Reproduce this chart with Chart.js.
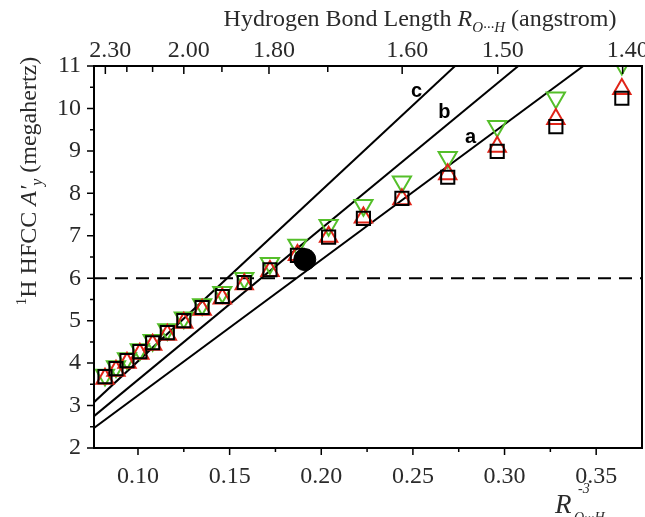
<!DOCTYPE html>
<html>
<head>
<meta charset="utf-8">
<script src="https://cdn.jsdelivr.net/npm/chart.js@4.4.0/dist/chart.umd.min.js"></script>
<style>
  html, body { margin: 0; padding: 0; background: #ffffff; }
  #wrap { width: 645px; height: 517px; }
</style>
</head>
<body>
<div id="wrap"><canvas id="chart" width="645" height="517"></canvas></div>
<script>
// x values are R^-3 (one point per bond length, 2.30 ... 1.40 angstrom)
const xValues = [0.082, 0.088, 0.094, 0.101, 0.108, 0.116, 0.125, 0.135, 0.146, 0.158,
                 0.172, 0.187, 0.204, 0.223, 0.244, 0.269, 0.296, 0.328, 0.364];
const squareValues = [3.68, 3.87, 4.06, 4.27, 4.48, 4.72, 5.00, 5.31, 5.57, 5.90,
                      6.20, 6.54, 6.97, 7.41, 7.88, 8.38, 8.99, 9.57, 10.24];
const upTriValues = [3.63, 3.82, 4.01, 4.22, 4.43, 4.67, 4.95, 5.26, 5.52, 5.86,
                     6.17, 6.55, 6.98, 7.43, 7.86, 8.45, 9.10, 9.75, 10.46];
const downTriValues = [3.72, 3.92, 4.11, 4.32, 4.54, 4.79, 5.07, 5.38, 5.67, 6.00,
                       6.35, 6.78, 7.25, 7.72, 8.27, 8.85, 9.58, 10.25, 11.05];

// experimental point
const circlePoint = [{ x: 0.191, y: 6.44 }];

// reference lines a, b, c (end points)
const lineA = [{ x: 0.076, y: 2.47 }, { x: 0.343, y: 11 }];
const lineB = [{ x: 0.076, y: 2.75 }, { x: 0.3075, y: 11 }];
const lineC = [{ x: 0.076, y: 3.08 }, { x: 0.273, y: 11 }];
const lineLabels = [
    { text: 'a', x: 0.2814, y: 9.32 },
    { text: 'b', x: 0.2672, y: 9.90 },
    { text: 'c', x: 0.2520, y: 10.41 }
];
const dashY = 6;

// axes
const xMin = 0.076, xMax = 0.375;
const yMin = 2, yMax = 11;
const xTicks = [0.10, 0.15, 0.20, 0.25, 0.30, 0.35];
const xMinorTicks = [0.125, 0.175, 0.225, 0.275, 0.325];
const yMinorTicks = [2.5, 3.5, 4.5, 5.5, 6.5, 7.5, 8.5, 9.5, 10.5];
const bondLengths = [2.30, 2.20, 2.10, 2.00, 1.90, 1.80, 1.70, 1.60, 1.50, 1.40];
const bondLabels = ['2.30', '', '', '2.00', '', '1.80', '', '1.60', '1.50', '1.40'];

const serif = "'Liberation Serif', 'DejaVu Serif', serif";
const tickFont = { family: serif, size: 24 };
const tickColor = '#2a2a2a';

function toPoints(xs, ys) {
    return xs.map((x, i) => ({ x: x, y: ys[i] }));
}

function topTickValue(r) {
    return 1 / (r * r * r);
}

// draws a run of text pieces (font / vertical shift) starting at x
function drawRich(ctx, parts, x, y) {
    let cx = x;
    parts.forEach(p => {
        ctx.font = p.font;
        ctx.fillText(p.t, cx, y + (p.dy || 0));
        cx += ctx.measureText(p.t).width;
    });
    return cx - x;
}

function richWidth(ctx, parts) {
    let w = 0;
    parts.forEach(p => {
        ctx.font = p.font;
        w += ctx.measureText(p.t).width;
    });
    return w;
}

function noPad(s) {
    s.paddingLeft = 0;
    s.paddingRight = 0;
    s.paddingTop = 0;
    s.paddingBottom = 0;
}

const decorPlugin = {
    id: 'decor',
    afterDraw(chart) {
        const ctx = chart.ctx;
        const area = chart.chartArea;
        const xs = chart.scales.x;
        const ys = chart.scales.y;
        ctx.save();

        // frame
        ctx.strokeStyle = '#000';
        ctx.lineWidth = 2;
        ctx.strokeRect(area.left, area.top, area.right - area.left, area.bottom - area.top);

        // tick marks
        ctx.lineWidth = 1.5;
        ctx.beginPath();
        xTicks.forEach(v => {
            const px = xs.getPixelForValue(v);
            ctx.moveTo(px, area.bottom); ctx.lineTo(px, area.bottom + 7);
        });
        xMinorTicks.forEach(v => {
            const px = xs.getPixelForValue(v);
            ctx.moveTo(px, area.bottom); ctx.lineTo(px, area.bottom + 4);
        });
        for (let v = yMin; v <= yMax; v++) {
            const py = ys.getPixelForValue(v);
            ctx.moveTo(area.left, py); ctx.lineTo(area.left - 7, py);
        }
        yMinorTicks.forEach(v => {
            const py = ys.getPixelForValue(v);
            ctx.moveTo(area.left, py); ctx.lineTo(area.left - 4, py);
        });
        bondLengths.forEach((r, i) => {
            const px = xs.getPixelForValue(topTickValue(r));
            const len = bondLabels[i] ? 8 : 6;
            ctx.moveTo(px, area.top); ctx.lineTo(px, area.top + len);
        });
        ctx.stroke();

        // line labels a, b, c
        ctx.fillStyle = '#000';
        ctx.font = "bold 20px 'Liberation Sans', Arial, sans-serif";
        ctx.textAlign = 'center';
        ctx.textBaseline = 'middle';
        lineLabels.forEach(l => {
            ctx.fillText(l.text, xs.getPixelForValue(l.x), ys.getPixelForValue(l.y));
        });
        ctx.textAlign = 'left';
        ctx.textBaseline = 'alphabetic';
        ctx.fillStyle = tickColor;

        // top title
        const big = '24px ' + serif;
        const bigIt = 'italic 24px ' + serif;
        const subIt = 'italic 15px ' + serif;
        const topParts = [
            { t: 'Hydrogen Bond Length ', font: big },
            { t: 'R', font: bigIt },
            { t: 'O\u00B7\u00B7\u00B7H', font: subIt, dy: 6 },
            { t: ' (angstrom)', font: big }
        ];
        const tw = richWidth(ctx, topParts);
        drawRich(ctx, topParts, 420 - tw / 2, 26);

        // left title (rotated)
        const leftParts = [
            { t: '1', font: '15px ' + serif, dy: -10 },
            { t: 'H HFCC ', font: big },
            { t: 'A\u2032', font: bigIt },
            { t: 'y', font: 'italic 16px ' + serif, dy: 6 },
            { t: ' (megahertz)', font: big }
        ];
        const lw = richWidth(ctx, leftParts);
        ctx.save();
        ctx.translate(36, 181);
        ctx.rotate(-Math.PI / 2);
        drawRich(ctx, leftParts, -lw / 2, 0);
        ctx.restore();

        // bottom title
        drawRich(ctx, [{ t: 'R', font: 'italic 27px ' + serif }], 555, 513);
        drawRich(ctx, [{ t: '-3', font: 'italic 14px ' + serif }], 578, 493);
        drawRich(ctx, [{ t: 'O\u00B7\u00B7\u00B7H', font: 'italic 14px ' + serif }], 574, 522);

        ctx.restore();
    }
};

const ctx = document.getElementById('chart').getContext('2d');

new Chart(ctx, {
    type: 'scatter',
    data: {
        datasets: [
            {
                label: 'circle',
                data: circlePoint,
                pointStyle: 'circle',
                pointRadius: 11,
                backgroundColor: '#000',
                borderColor: '#000',
                borderWidth: 1,
                order: 0
            },
            {
                label: 'squares',
                data: toPoints(xValues, squareValues),
                pointStyle: 'rect',
                pointRadius: 9.3,
                backgroundColor: 'rgba(0,0,0,0)',
                borderColor: '#000',
                borderWidth: 2,
                order: 1
            },
            {
                label: 'up triangles',
                data: toPoints(xValues, upTriValues),
                pointStyle: 'triangle',
                pointRadius: 10,
                backgroundColor: 'rgba(0,0,0,0)',
                borderColor: '#e02418',
                borderWidth: 2,
                order: 2
            },
            {
                label: 'down triangles',
                data: toPoints(xValues, downTriValues),
                pointStyle: 'triangle',
                rotation: 180,
                pointRadius: 10.5,
                backgroundColor: 'rgba(0,0,0,0)',
                borderColor: '#55bf2a',
                borderWidth: 2,
                order: 3,
                clip: 0
            },
            {
                label: 'a',
                data: lineA,
                showLine: true,
                pointRadius: 0,
                borderColor: '#000',
                borderWidth: 2,
                order: 4
            },
            {
                label: 'b',
                data: lineB,
                showLine: true,
                pointRadius: 0,
                borderColor: '#000',
                borderWidth: 2,
                order: 4
            },
            {
                label: 'c',
                data: lineC,
                showLine: true,
                pointRadius: 0,
                borderColor: '#000',
                borderWidth: 2,
                order: 4
            },
            {
                label: 'dash',
                data: [{ x: xMin, y: dashY }, { x: xMax, y: dashY }],
                showLine: true,
                pointRadius: 0,
                borderColor: '#000',
                borderWidth: 2,
                borderDash: [13, 8],
                order: 5
            }
        ]
    },
    options: {
        responsive: false,
        animation: false,
        layout: { autoPadding: false, padding: { left: 0, right: 3, top: 0, bottom: 0 } },
        plugins: {
            legend: { display: false },
            tooltip: { enabled: false }
        },
        scales: {
            x: {
                type: 'linear',
                position: 'bottom',
                min: xMin,
                max: xMax,
                afterBuildTicks: s => { s.ticks = xTicks.map(v => ({ value: v })); },
                afterFit: s => { s.height = 69; noPad(s); },
                grid: { display: false, drawTicks: false },
                border: { display: false },
                ticks: {
                    font: tickFont,
                    color: tickColor,
                    padding: 14,
                    maxRotation: 0,
                    autoSkip: false,
                    callback: v => v.toFixed(2)
                }
            },
            x2: {
                type: 'linear',
                position: 'top',
                min: xMin,
                max: xMax,
                afterBuildTicks: s => { s.ticks = bondLengths.map(r => ({ value: topTickValue(r) })); },
                afterFit: s => { s.height = 66; noPad(s); },
                grid: { display: false, drawTicks: false },
                border: { display: false },
                ticks: {
                    font: tickFont,
                    color: tickColor,
                    padding: 1,
                    labelOffset: 5,
                    maxRotation: 0,
                    autoSkip: false,
                    callback: (v, i) => bondLabels[i]
                }
            },
            y: {
                type: 'linear',
                min: yMin,
                max: yMax,
                afterFit: s => { s.width = 94; noPad(s); },
                grid: { display: false, drawTicks: false },
                border: { display: false },
                ticks: {
                    stepSize: 1,
                    font: tickFont,
                    color: tickColor,
                    padding: 13
                }
            }
        }
    },
    plugins: [decorPlugin]
});
</script>
</body>
</html>
